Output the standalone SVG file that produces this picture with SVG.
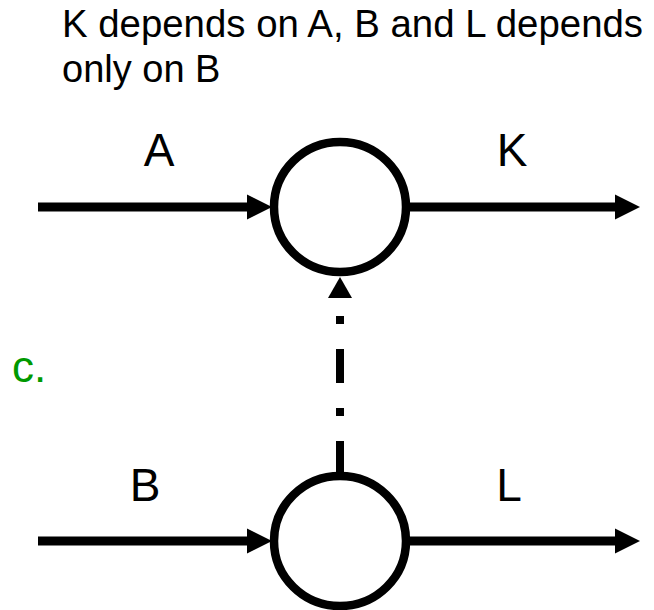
<svg xmlns="http://www.w3.org/2000/svg" width="654" height="610" viewBox="0 0 654 610">
<style>
.t{font-family:"Liberation Sans",Arial,sans-serif;fill:#000}
.lbl{font-size:46px;text-anchor:middle}
.ttl{font-size:38px}
.ln{stroke:#000;stroke-width:9;fill:none}
.node{stroke:#000;stroke-width:8.5;fill:#fff}
.dash{stroke:#000;stroke-width:8;fill:none;stroke-dasharray:34 25 8 25}
</style>
<defs>
<marker id="ah" markerUnits="userSpaceOnUse" markerWidth="25" markerHeight="26" refX="1" refY="13" orient="auto" overflow="visible">
<path d="M0,0.5 L25,13 L0,25.5 Z" fill="#000"/>
</marker>
</defs>
<g id="title">
<text class="t ttl" x="62" y="37" textLength="581" lengthAdjust="spacingAndGlyphs">K depends on A, B and L depends</text>
<text class="t ttl" x="62" y="82">only on B</text>
</g>
<text x="12" y="382" font-family="Liberation Sans, Arial, sans-serif" font-size="44" fill="#009900">c.</text>
<g id="connectors">
<line class="ln" x1="38" y1="207" x2="248" y2="207" marker-end="url(#ah)"/>
<line class="ln" x1="408" y1="207" x2="616" y2="207" marker-end="url(#ah)"/>
<line class="ln" x1="38" y1="541" x2="248" y2="541" marker-end="url(#ah)"/>
<line class="ln" x1="408" y1="541" x2="616" y2="541" marker-end="url(#ah)"/>
<line class="dash" x1="340" y1="475" x2="340" y2="298"/>
<path d="M328,298 L340,277 L352,298 Z" fill="#000"/>
<text class="t lbl" x="159" y="166">A</text>
<text class="t lbl" x="512" y="166">K</text>
<text class="t lbl" x="145" y="501">B</text>
<text class="t lbl" x="509" y="501">L</text>
</g>
<g id="nodeTop">
<ellipse class="node" cx="340" cy="207" rx="66" ry="65"/>
</g>
<g id="nodeBottom">
<ellipse class="node" cx="340" cy="541" rx="66" ry="65"/>
</g>
</svg>
